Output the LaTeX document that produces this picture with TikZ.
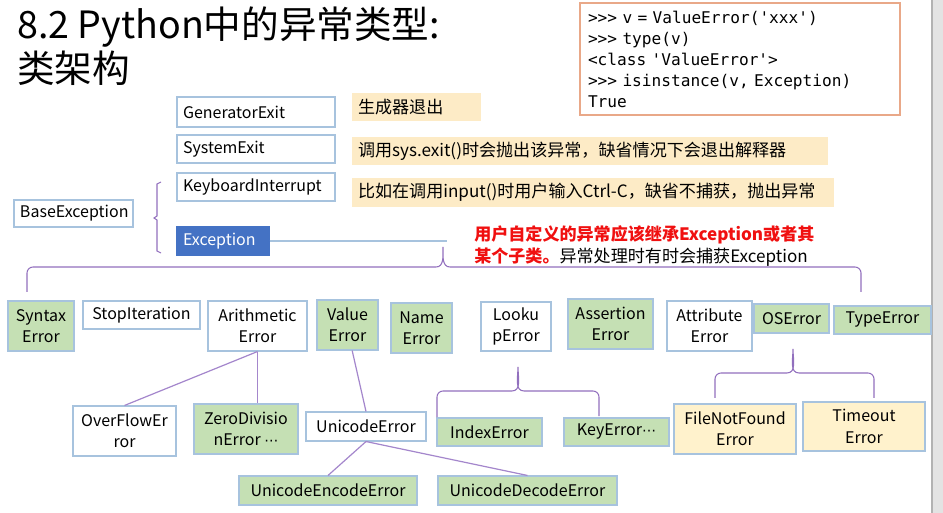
\documentclass[tikz,border=0pt]{standalone}
\usepackage{fontspec}
\setmainfont{Noto Sans CJK SC}
\setmonofont{DejaVu Sans Mono}
\newfontfamily\dejavu{DejaVu Sans}
\definecolor{boxline}{HTML}{A7C3DE}
\definecolor{mygreen}{HTML}{C5E0B4}
\definecolor{myyellow}{HTML}{FFF2CC}
\definecolor{notey}{HTML}{FDEBC6}
\definecolor{excblue}{HTML}{4472C4}
\definecolor{brc}{HTML}{9270BE}
\definecolor{lnk}{HTML}{A486CC}
\definecolor{codeline}{HTML}{E9A888}
\definecolor{redtxt}{HTML}{F01010}
\newcommand\bx[7]{\node[#6, minimum width={(#4-#2)*0.75pt}, minimum height={(#5-#3)*0.75pt}] (#1) at ({(#2+#4)/2},{(#3+#5)/2}) {#7};}
\newcommand\lbx[7]{\node[#6, text width={(#4-#2-12)*0.75pt}, inner xsep=4.5pt, inner ysep=0pt, align=left, minimum width={(#4-#2)*0.75pt}, minimum height={(#5-#3)*0.75pt}] (#1) at ({(#2+#4)/2},{(#3+#5)/2}) {#7};}
\newcommand\mydots{{\dejavu\fontsize{10.5}{10}\selectfont ⋯}}
\begin{document}
\begin{tikzpicture}[x=0.75pt,y=-0.75pt,
  box/.style={draw=boxline, line width=0.8pt, inner sep=0pt, align=center, font=\fontsize{12}{16}\selectfont},
  wbox/.style={box, fill=white},
  gbox/.style={box, fill=mygreen},
  ybox/.style={box, fill=myyellow},
  bbox/.style={box, draw=excblue, fill=excblue, text=white},
  notebox/.style={fill=notey, inner sep=0pt, font=\fontsize{12.8}{16}\selectfont},
  brace/.style={draw=brc, line width=0.8pt},
  link/.style={draw=lnk, line width=0.9pt}]
\useasboundingbox (0,0) rectangle (943,513);
\fill[white] (0,0) rectangle (943,513);
% right gray bar
\fill[gray!22] (932,0) rectangle (943,513);
\draw[gray!60, line width=0.8pt] (932,0) -- (932,513);

% title
\node[anchor=north west, inner sep=0pt, align=left, font=\fontsize{28.2}{33}\selectfont] (title) at (17,7) {8.2 Python中的异常类型:\\类架构};

% code box
\node[draw=codeline, line width=0.9pt, fill=white, minimum width=320*0.75pt, minimum height=112*0.75pt, text width=304*0.75pt, inner xsep=6pt, inner ysep=0pt, align=left, font=\ttfamily\fontsize{12.1}{15.75}\selectfont] (code) at (740,59) {>>{}> v = ValueError('xxx')\\>>{}> type(v)\\<class 'ValueError'>\\>>{}> isinstance(v, Exception)\\True};

% top boxes
\lbx{genexit}{177}{97}{335}{127}{wbox}{GeneratorExit}
\lbx{sysexit}{177}{135}{335}{163}{wbox}{SystemExit}
\lbx{kbint}{177}{173}{335}{201}{wbox}{KeyboardInterrupt}
\lbx{baseexc}{14}{200}{133}{227}{wbox}{BaseException}
\lbx{exc}{177}{227}{269}{255}{bbox}{Exception}

% notes
\lbx{n1}{352}{93}{481}{121}{notebox}{生成器退出}
\lbx{n2}{352}{137}{828}{165}{notebox}{调用sys.exit()时会抛出该异常，缺省情况下会退出解释器}
\lbx{n3}{352}{178}{834}{207}{notebox}{比如在调用input()时用户输入Ctrl-C，缺省不捕获，抛出异常}

% red note
\node[anchor=north west, inner sep=0pt, align=left, font=\fontsize{12.8}{16.5}\selectfont] (rednote) at (474,225) {\textcolor{redtxt}{\bfseries 用户自定义的异常应该继承Exception或者其}\\\textcolor{redtxt}{\bfseries 某个子类。}异常处理时有时会捕获Exception};

% second row
\bx{syntax}{8}{301}{74}{351}{gbox}{Syntax\\Error}
\bx{stopit}{83}{301}{200}{329}{wbox}{StopIteration}
\bx{arith}{208}{301}{307}{351}{wbox}{Arithmetic\\Error}
\bx{value}{317}{300}{378}{350}{gbox}{Value\\Error}
\bx{name}{391}{303}{452}{353}{gbox}{Name\\Error}
\bx{lookup}{481}{302}{551}{351}{wbox}{Looku\\pError}
\bx{assert}{568}{299}{653}{349}{gbox}{Assertion\\Error}
\bx{attr}{667}{301}{752}{351}{wbox}{Attribute\\Error}
\bx{oserr}{754}{304}{829}{333}{gbox}{OSError}
\bx{typeerr}{834}{306}{931}{334}{gbox}{TypeError}

% third row
\bx{overflow}{73}{406}{176}{456}{wbox}{OverFlowEr\\ror}
\bx{zerodiv}{194}{404}{298}{454}{gbox}{ZeroDivisio\\nError \mydots}
\bx{unicode}{306}{412}{426}{441}{wbox}{UnicodeError}
\bx{index}{437}{418}{542}{446}{gbox}{IndexError}
\bx{keyerr}{564}{418}{669}{446}{gbox}{KeyError\mydots}
\bx{filenf}{674}{404}{796}{454}{ybox}{FileNotFound\\Error}
\bx{timeout}{803}{402}{925}{451}{ybox}{Timeout\\Error}
\bx{uenc}{239}{476}{417}{505}{gbox}{UnicodeEncodeError}
\bx{udec}{438}{476}{617}{505}{gbox}{UnicodeDecodeError}

% connector from Exception
\coordinate (excend) at (447,241);
\draw[draw=boxline, line width=0.9pt] (exc.east) -- (excend);

% BaseException bracket
\draw[brace] (161,182) -- (157,184) -- (157,216) -- (154,218) -- (157,220) -- (157,251) -- (161,253);

% big brace under Exception
\coordinate (btip) at (443,247);
\draw[brace] (27,292) -- (27,273) to[out=90,in=180] (33,267) -- (436,267) to[out=0,in=-90] (btip)
  to[out=-90,in=180] (450,267) -- (855,267) to[out=0,in=90] (861,273) -- (861,292);

% Lookup brace
\coordinate (ltip) at (518,367);
\draw[brace] (437,417) -- (437,397) to[out=90,in=180] (443,391) -- (512,391) to[out=0,in=-90] (ltip)
  to[out=-90,in=180] (524,391) -- (593,391) to[out=0,in=90] (599,397) -- (599,416);

% OSError brace
\coordinate (otip) at (793,349);
\draw[brace] (715,398) -- (715,379) to[out=90,in=180] (721,373) -- (787,373) to[out=0,in=-90] (otip)
  to[out=-90,in=180] (799,373) -- (868,373) to[out=0,in=90] (874,379) -- (874,398);

% links
\draw[link] (arith.south) -- (overflow.north);
\draw[link] (arith.south) -- (arith.south |- zerodiv.north);
\draw[link] ([xshift=3.5pt]value.south) -- (unicode.north);
\draw[link] (unicode.south) -- (uenc.north);
\draw[link] (unicode.south) -- (udec.north);
\end{tikzpicture}
\end{document}
